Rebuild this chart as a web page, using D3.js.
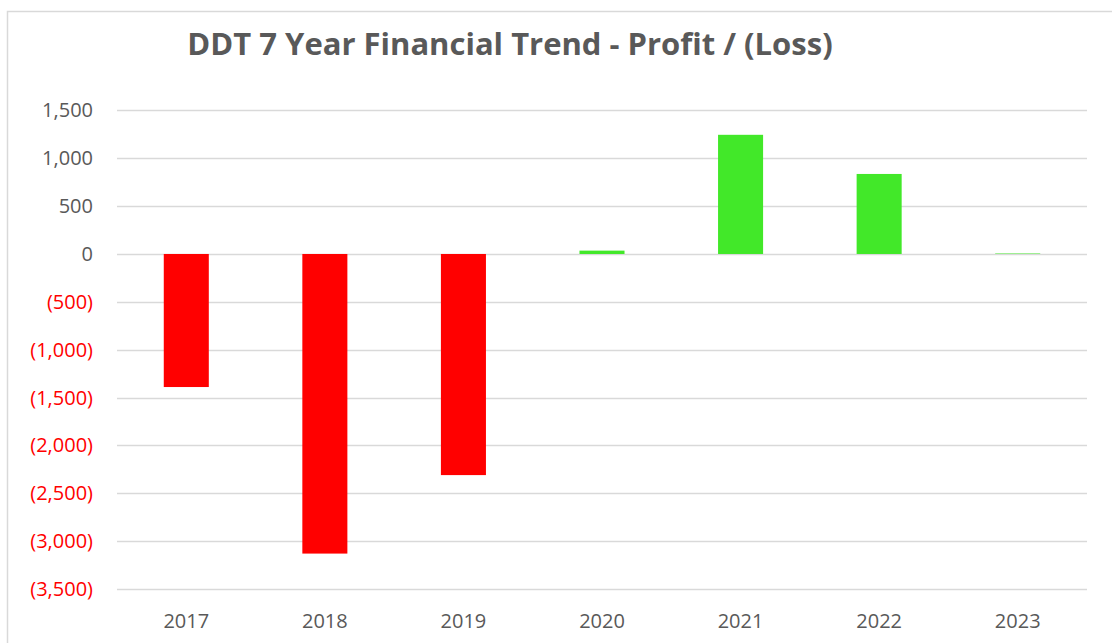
<!DOCTYPE html>
<html>
<head>
<meta charset="utf-8">
<script src="https://cdn.jsdelivr.net/npm/d3@7"></script>
<style>
  body { margin: 0; background: #fff; }
  svg { display: block; }
</style>
</head>
<body>
<svg width="1112" height="643"></svg>
<script>
var years = ['2017', '2018', '2019', '2020', '2021', '2022', '2023']
var profit = [-1390, -3130, -2310, 35, 1245, 836, 5]
var yTicks = [1500, 1000, 500, 0, -500, -1000, -1500, -2000, -2500, -3000, -3500]

var svg = d3.select('svg')

var plotLeft = 117
var plotRight = 1087
var plotTop = 110.4
var plotBottom = 589

// chart border
svg.append('rect')
  .attr('x', 7.5)
  .attr('y', 11.5)
  .attr('width', 1200)
  .attr('height', 700)
  .style('fill', 'none')
  .style('stroke', '#d9d9d9')
  .style('stroke-width', 1.5)

svg.append('text')
  .attr('x', 510)
  .attr('y', 55)
  .attr('text-anchor', 'middle')
  .style('font-family', 'Open Sans, sans-serif')
  .style('font-weight', 'bold')
  .style('font-size', '31px')
  .style('fill', '#595959')
  .text('DDT 7 Year Financial Trend - Profit / (Loss)')

var x = d3.scaleBand()
  .domain(years)
  .range([plotLeft, plotRight])
  .paddingInner(0.675)
  .paddingOuter(0.3375)

var y = d3.scaleLinear()
  .domain([-3500, 1500])
  .range([plotBottom, plotTop])

var fmt = d3.format(',')

// gridlines
svg.selectAll('line.grid')
  .data(yTicks)
  .enter()
  .append('line')
  .attr('class', 'grid')
  .attr('x1', plotLeft)
  .attr('x2', plotRight)
  .attr('y1', function (d) { return Math.round(y(d)) + 0.5 })
  .attr('y2', function (d) { return Math.round(y(d)) + 0.5 })
  .style('stroke', '#d9d9d9')
  .style('stroke-width', 1.5)

svg.selectAll('text.ytick')
  .data(yTicks)
  .enter()
  .append('text')
  .attr('class', 'ytick')
  .attr('x', 93)
  .attr('y', function (d) { return y(d) + 7 })
  .attr('text-anchor', 'end')
  .style('font-family', 'Open Sans, sans-serif')
  .style('font-size', '20px')
  .style('fill', function (d) { return d < 0 ? '#ff0000' : '#595959' })
  .text(function (d) { return d < 0 ? '(' + fmt(-d) + ')' : fmt(d) })

svg.selectAll('rect.bar')
  .data(profit)
  .enter()
  .append('rect')
  .attr('class', 'bar')
  .attr('x', function (d, i) { return x(years[i]) })
  .attr('width', x.bandwidth())
  .attr('y', function (d) { return y(Math.max(0, d)) })
  .attr('height', function (d) { return Math.abs(y(d) - y(0)) })
  .style('fill', function (d) { return d < 0 ? '#ff0000' : '#42e829' })

svg.selectAll('text.xtick')
  .data(years)
  .enter()
  .append('text')
  .attr('class', 'xtick')
  .attr('x', function (d) { return x(d) + x.bandwidth() / 2 })
  .attr('y', 628)
  .attr('text-anchor', 'middle')
  .style('font-family', 'Open Sans, sans-serif')
  .style('font-size', '20px')
  .style('fill', '#595959')
  .text(function (d) { return d })
</script>
</body>
</html>
